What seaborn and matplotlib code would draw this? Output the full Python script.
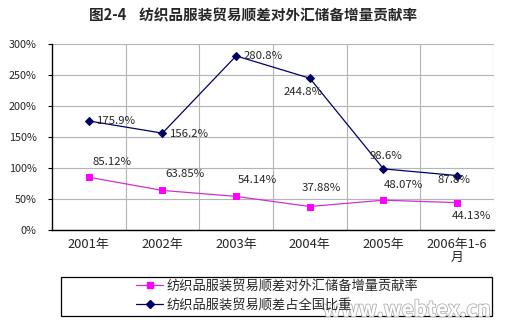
import matplotlib
matplotlib.use("Agg")
import matplotlib.pyplot as plt
import matplotlib.patheffects as pe
import seaborn as sns
import pandas as pd
from matplotlib.patches import Rectangle
from matplotlib.lines import Line2D

categories = ["2001年", "2002年", "2003年", "2004年", "2005年", "2006年1-6\n月"]
contribution = [85.12, 63.85, 54.14, 37.88, 48.07, 44.13]
share = [175.9, 156.2, 280.8, 244.8, 98.6, 87.8]
series_names = ["纺织品服装贸易顺差对外汇储备增量贡献率", "纺织品服装贸易顺差占全国比重"]
yticks = [0, 50, 100, 150, 200, 250, 300]
title = "图2-4    纺织品服装贸易顺差对外汇储备增量贡献率"

sns.set_theme(style="white")
plt.rcParams["font.family"] = ["Noto Sans CJK SC", "DejaVu Sans"]

df = pd.DataFrame({"x": list(range(len(categories))), "c": contribution, "s": share})

fig = plt.figure(figsize=(5.09, 3.26), dpi=100)
ax = fig.add_axes([0.102, 0.2945, 0.8685, 0.5705])

pink = "#FF00FF"
navy = "#000066"
sns.lineplot(data=df, x="x", y="c", ax=ax, color="#CC33CC", lw=0.9,
             marker="s", markersize=5, markerfacecolor=pink, markeredgecolor=pink)
sns.lineplot(data=df, x="x", y="s", ax=ax, color=navy, lw=0.9,
             marker="D", markersize=4.5, markerfacecolor=navy, markeredgecolor=navy)

ax.set_xlim(-0.5, len(categories) - 0.5)
ax.set_ylim(0, 300)
ax.set_yticks(yticks)
ax.set_yticklabels([f"{v}%" for v in yticks], fontsize=7.8)
ax.set_xticks(range(len(categories)))
ax.set_xticklabels(categories, fontsize=9.3, linespacing=1.0)
ax.set_xticks([i + 0.5 for i in range(len(categories))], minor=True)
ax.tick_params(axis="x", which="both", length=0, pad=6)
ax.tick_params(axis="y", which="major", length=3, width=0.8, color="black", direction="out", pad=8, left=True)
ax.set_xlabel("")
ax.set_ylabel("")
ax.grid(axis="y", which="major", color="#B4B4B4", lw=0.8)
ax.grid(axis="x", which="minor", color="#B4B4B4", lw=0.8)
ax.grid(axis="x", which="major", visible=False)
for side in ["top", "right"]:
    ax.spines[side].set_visible(False)
ax.spines["left"].set_color("black")
ax.spines["bottom"].set_color("black")
ax.spines["left"].set_linewidth(1.0)
ax.spines["bottom"].set_linewidth(1.0)

# data labels
c_off = [(16.5, 11), (16, 12), (15, 11.5), (8, 13), (14.5, 11), (10, -9.5)]
for i, v in enumerate(contribution):
    ax.annotate(f"{v:.2f}%", (i, v), xytext=c_off[i], textcoords="offset points",
                ha="center", va="center", fontsize=8.2)
s_off = [(20, 0), (19.5, -0.7), (19.5, 0), (-5, -10), (2, 9.5), (-2, -3)]
for i, v in enumerate(share):
    ax.annotate(f"{v:.1f}%", (i, v), xytext=s_off[i], textcoords="offset points",
                ha="center", va="center", fontsize=8.2)

fig.text(0.497, 0.953, title, ha="center", va="center", fontsize=10.5, fontweight="bold")

# legend
fig.patches.append(Rectangle((61 / 509, 1 - 316 / 326), 431 / 509, 39 / 326,
                             transform=fig.transFigure, fill=False, ec="black", lw=0.9))
handles = [
    Line2D([], [], color="#CC33CC", lw=0.9, marker="s", markersize=5, markerfacecolor=pink, markeredgecolor=pink),
    Line2D([], [], color=navy, lw=0.9, marker="D", markersize=4.5, markerfacecolor=navy, markeredgecolor=navy),
]
fig.legend(handles, series_names, loc="center", bbox_to_anchor=(0.545, 1 - 295.5 / 326),
           frameon=False, fontsize=9.5, handlelength=2.0, handletextpad=0.3,
           labelspacing=0.45, borderpad=0)

fig.text(0.965, 0.05, "www.webtex.cn", ha="right", va="center", fontsize=15,
         color="white", fontweight="bold",
         path_effects=[pe.withStroke(linewidth=1.2, foreground="#B0B0B0")])

fig.savefig("out.png", dpi=100, facecolor="white")
